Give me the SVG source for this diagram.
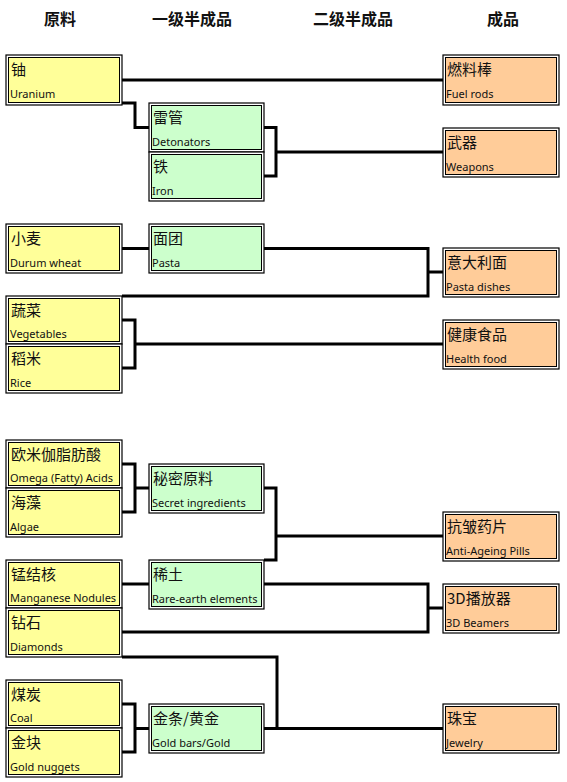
<svg xmlns="http://www.w3.org/2000/svg" width="567" height="782" viewBox="0 0 567 782">
<style>
.o{fill:#fff;stroke:#000;stroke-width:1.2}
.y{fill:#FFFF99;stroke:#000;stroke-width:1}
.g{fill:#CCFFCC;stroke:#000;stroke-width:1}
.r{fill:#FFCC99;stroke:#000;stroke-width:1}
.cn{font-family:"Noto Sans CJK SC","Noto Sans",sans-serif;font-size:15px;fill:#111}
.en{font-family:"Noto Sans","Open Sans",sans-serif;font-size:11px;fill:#111}
.h{font-family:"Noto Sans CJK SC",sans-serif;font-size:16px;font-weight:700;fill:#111;text-anchor:middle}
.c{fill:none;stroke:#000;stroke-width:3}
</style>
<rect width="567" height="782" fill="#fff"/>
<g id="headers">
<text class="h" x="60" y="25">原料</text>
<text class="h" x="192" y="25">一级半成品</text>
<text class="h" x="353" y="25">二级半成品</text>
<text class="h" x="503" y="25">成品</text>
</g>
<g id="connectors">
<path class="c" d="M122 80H443"/>
<path class="c" d="M122 103H135V127.5H149"/>
<path class="c" d="M264 127.5H276V176H264M276 152H443"/>
<path class="c" d="M122 248.5H149"/>
<path class="c" d="M264 248.5H428V296H122M428 272H443"/>
<path class="c" d="M122 320H135V368H122M135 344H443"/>
<path class="c" d="M122 464H135V512H122M135 488H149"/>
<path class="c" d="M264 488H276V560H264M276 536H443"/>
<path class="c" d="M122 584H149"/>
<path class="c" d="M264 584H428V632H122M428 608H443"/>
<path class="c" d="M122 657H277V728.5"/>
<path class="c" d="M122 704H135V752H122M135 728.5H149"/>
<path class="c" d="M264 728.5H443"/>
</g>
<g id="uranium"><rect class="o" x="6" y="55" width="116" height="50"/><rect class="y" x="8.5" y="57.5" width="111" height="45"/><text class="cn" x="11" y="75">铀</text><text class="en" x="10" y="98">Uranium</text></g>
<g id="detonators"><rect class="o" x="149" y="103" width="115" height="49"/><rect class="g" x="151.5" y="105.5" width="110" height="44"/><text class="cn" x="153" y="123">雷管</text><text class="en" x="152" y="146">Detonators</text></g>
<g id="iron"><rect class="o" x="149" y="152" width="115" height="49"/><rect class="g" x="151.5" y="154.5" width="110" height="44"/><text class="cn" x="153" y="172">铁</text><text class="en" x="152" y="195">Iron</text></g>
<g id="fuel-rods"><rect class="o" x="443" y="55" width="116" height="50"/><rect class="r" x="445.5" y="57.5" width="111" height="45"/><text class="cn" x="447" y="75">燃料棒</text><text class="en" x="446" y="98">Fuel rods</text></g>
<g id="weapons"><rect class="o" x="443" y="128" width="116" height="49"/><rect class="r" x="445.5" y="130.5" width="111" height="44"/><text class="cn" x="447" y="148">武器</text><text class="en" x="446" y="171">Weapons</text></g>
<g id="durum-wheat"><rect class="o" x="6" y="224" width="116" height="49"/><rect class="y" x="8.5" y="226.5" width="111" height="44"/><text class="cn" x="11" y="244">小麦</text><text class="en" x="10" y="267">Durum wheat</text></g>
<g id="pasta"><rect class="o" x="149" y="224" width="115" height="49"/><rect class="g" x="151.5" y="226.5" width="110" height="44"/><text class="cn" x="153" y="244">面团</text><text class="en" x="152" y="267">Pasta</text></g>
<g id="pasta-dishes"><rect class="o" x="443" y="248" width="116" height="49"/><rect class="r" x="445.5" y="250.5" width="111" height="44"/><text class="cn" x="447" y="268">意大利面</text><text class="en" x="446" y="291">Pasta dishes</text></g>
<g id="vegetables"><rect class="o" x="6" y="296" width="116" height="48"/><rect class="y" x="8.5" y="298.5" width="111" height="43"/><text class="cn" x="11" y="316">蔬菜</text><text class="en" x="10" y="338">Vegetables</text></g>
<g id="rice"><rect class="o" x="6" y="344" width="116" height="49"/><rect class="y" x="8.5" y="346.5" width="111" height="44"/><text class="cn" x="11" y="364">稻米</text><text class="en" x="10" y="387">Rice</text></g>
<g id="health-food"><rect class="o" x="443" y="320" width="116" height="49"/><rect class="r" x="445.5" y="322.5" width="111" height="44"/><text class="cn" x="447" y="340">健康食品</text><text class="en" x="446" y="363">Health food</text></g>
<g id="omega"><rect class="o" x="6" y="440" width="116" height="48"/><rect class="y" x="8.5" y="442.5" width="111" height="43"/><text class="cn" x="11" y="460">欧米伽脂肪酸</text><text class="en" x="10" y="482">Omega (Fatty) Acids</text></g>
<g id="algae"><rect class="o" x="6" y="488" width="116" height="49"/><rect class="y" x="8.5" y="490.5" width="111" height="44"/><text class="cn" x="11" y="508">海藻</text><text class="en" x="10" y="531">Algae</text></g>
<g id="secret-ingredients"><rect class="o" x="149" y="464" width="115" height="49"/><rect class="g" x="151.5" y="466.5" width="110" height="44"/><text class="cn" x="153" y="484">秘密原料</text><text class="en" x="152" y="507">Secret ingredients</text></g>
<g id="anti-ageing"><rect class="o" x="443" y="512" width="116" height="49"/><rect class="r" x="445.5" y="514.5" width="111" height="44"/><text class="cn" x="447" y="532">抗皱药片</text><text class="en" x="446" y="555">Anti-Ageing Pills</text></g>
<g id="manganese"><rect class="o" x="6" y="560" width="116" height="48"/><rect class="y" x="8.5" y="562.5" width="111" height="43"/><text class="cn" x="11" y="580">锰结核</text><text class="en" x="10" y="602">Manganese Nodules</text></g>
<g id="diamonds"><rect class="o" x="6" y="608" width="116" height="49"/><rect class="y" x="8.5" y="610.5" width="111" height="44"/><text class="cn" x="11" y="628">钻石</text><text class="en" x="10" y="651">Diamonds</text></g>
<g id="rare-earth"><rect class="o" x="149" y="560" width="115" height="49"/><rect class="g" x="151.5" y="562.5" width="110" height="44"/><text class="cn" x="153" y="580">稀土</text><text class="en" x="152" y="603">Rare-earth elements</text></g>
<g id="3d-beamers"><rect class="o" x="443" y="584" width="116" height="49"/><rect class="r" x="445.5" y="586.5" width="111" height="44"/><text class="cn" x="447" y="604">3D播放器</text><text class="en" x="446" y="627">3D Beamers</text></g>
<g id="coal"><rect class="o" x="6" y="680" width="116" height="48"/><rect class="y" x="8.5" y="682.5" width="111" height="43"/><text class="cn" x="11" y="700">煤炭</text><text class="en" x="10" y="722">Coal</text></g>
<g id="gold-nuggets"><rect class="o" x="6" y="728" width="116" height="49"/><rect class="y" x="8.5" y="730.5" width="111" height="44"/><text class="cn" x="11" y="748">金块</text><text class="en" x="10" y="771">Gold nuggets</text></g>
<g id="gold-bars"><rect class="o" x="149" y="704" width="115" height="49"/><rect class="g" x="151.5" y="706.5" width="110" height="44"/><text class="cn" x="153" y="724">金条/黄金</text><text class="en" x="152" y="747">Gold bars/Gold</text></g>
<g id="jewelry"><rect class="o" x="443" y="704" width="116" height="49"/><rect class="r" x="445.5" y="706.5" width="111" height="44"/><text class="cn" x="447" y="724">珠宝</text><text class="en" x="446" y="747">Jewelry</text></g>
</svg>
